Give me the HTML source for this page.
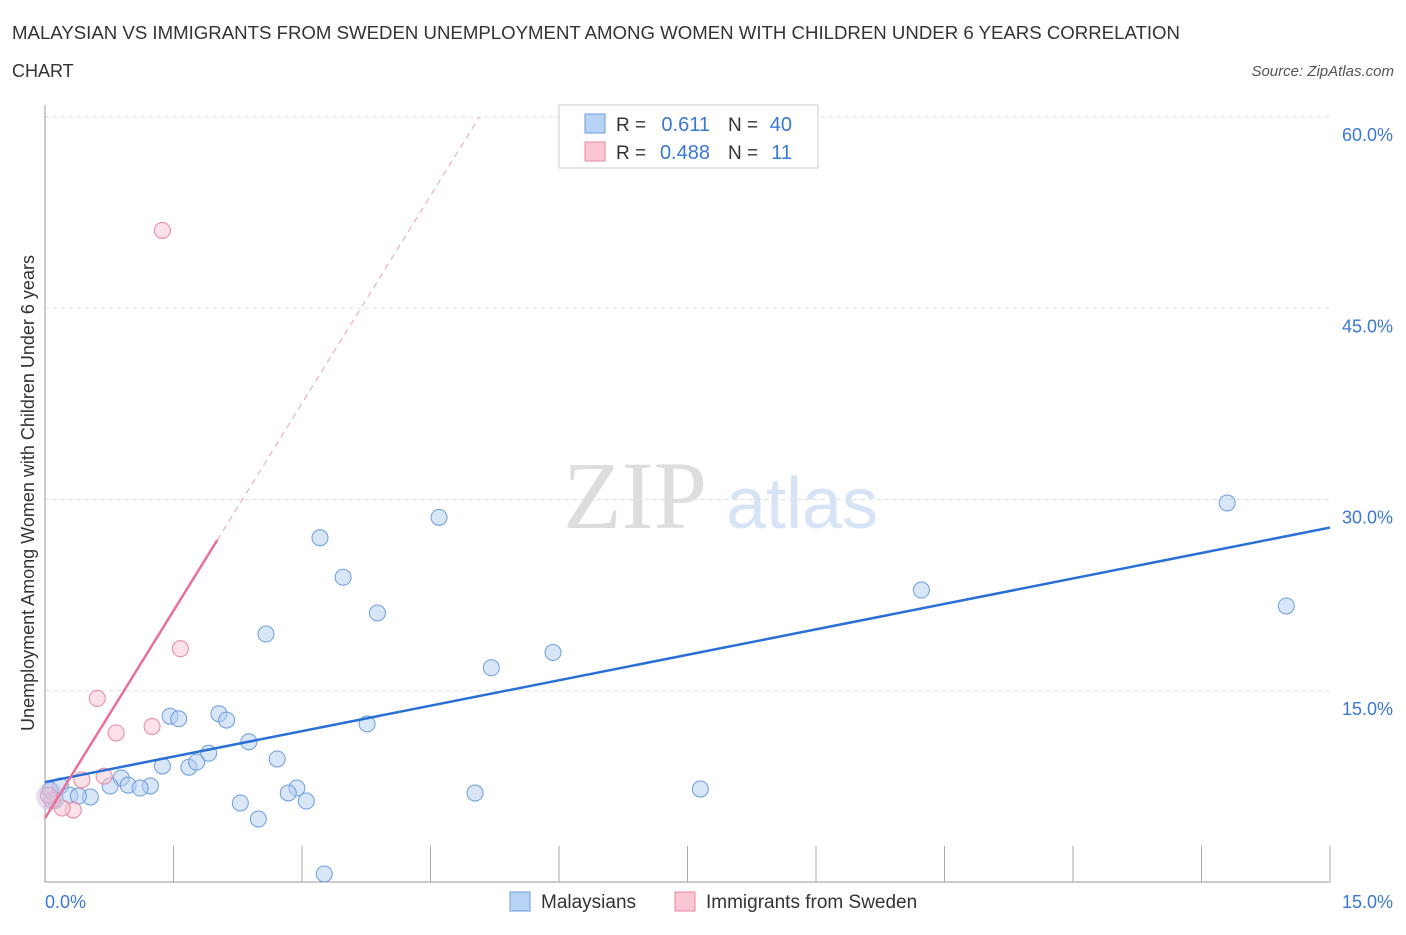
<!DOCTYPE html>
<html><head><meta charset="utf-8"><style>
body{margin:0;background:#fff;font-family:"Liberation Sans",sans-serif}
</style></head><body>
<svg id="c" width="1406" height="930" xmlns="http://www.w3.org/2000/svg">
<text x="12" y="39" font-size="18" fill="#333" textLength="1168" lengthAdjust="spacingAndGlyphs">MALAYSIAN VS IMMIGRANTS FROM SWEDEN UNEMPLOYMENT AMONG WOMEN WITH CHILDREN UNDER 6 YEARS CORRELATION</text>
<text x="12" y="77" font-size="18" fill="#333">CHART</text>
<text x="1394" y="76" font-size="15" font-style="italic" fill="#555" text-anchor="end">Source: ZipAtlas.com</text>
<text x="635" y="528" font-size="96" font-family="Liberation Serif" fill="#ddd" text-anchor="middle">ZIP</text>
<text x="802" y="528" font-size="72" fill="#d6e4f5" text-anchor="middle">atlas</text>
<g id="grid"></g><g id="marks"></g>
<text transform="translate(34,493) rotate(-90)" font-size="18" fill="#333" text-anchor="middle">Unemployment Among Women with Children Under 6 years</text>
<g>
<rect x="559" y="105" width="259" height="63" fill="#fff" stroke="#ccc"/>
<rect x="585" y="114" width="20" height="19" fill="#b8d3f5" stroke="#6a9de0"/>
<rect x="585" y="142" width="20" height="19" fill="#fac6d4" stroke="#e8879f"/>
<text x="616" y="131" font-size="19" fill="#333">R =</text>
<text x="710" y="131" font-size="20" fill="#3a78d4" text-anchor="end">0.611</text>
<text x="728" y="131" font-size="19" fill="#333">N =</text>
<text x="792" y="131" font-size="20" fill="#3a78d4" text-anchor="end">40</text>
<text x="616" y="159" font-size="19" fill="#333">R =</text>
<text x="710" y="159" font-size="20" fill="#3a78d4" text-anchor="end">0.488</text>
<text x="728" y="159" font-size="19" fill="#333">N =</text>
<text x="792" y="159" font-size="20" fill="#3a78d4" text-anchor="end">11</text>
</g>
<g>
<rect x="510" y="892" width="20" height="19" fill="#b8d3f5" stroke="#6a9de0"/>
<text x="541" y="908" font-size="19" fill="#333">Malaysians</text>
<rect x="675" y="892" width="20" height="19" fill="#fac6d4" stroke="#e8879f"/>
<text x="706" y="908" font-size="19" fill="#333">Immigrants from Sweden</text>
</g>
</svg>
<script>
const yTicks=[15,30,45,60];
const yTickLabels=["15.0%","30.0%","45.0%","60.0%"];
const blueX=[13.80,14.49,10.23,4.60,3.21,3.48,3.88,2.58,5.93,5.21,3.76,1.46,1.56,2.03,2.12,2.38,1.91,2.71,1.37,1.68,1.77,0.89,1.23,0.97,1.11,0.76,0.18,0.29,0.53,0.39,2.94,2.84,3.05,2.28,5.02,7.65,2.49,3.26,0.06,0.12];
const blueY=[29.73,21.65,22.9,28.6,27.0,23.9,21.1,19.45,18.0,16.8,12.4,13.0,12.8,13.2,12.7,11.0,10.1,9.65,9.1,9.0,9.4,8.16,7.53,7.6,7.37,7.53,7.53,6.8,6.67,6.75,7.37,6.98,6.35,6.2,6.98,7.29,4.94,0.63,7.2,6.4];
const pinkX=[1.37,1.58,0.61,1.25,0.83,0.69,0.43,0.33,0.20,0.08,0.04];
const pinkY=[51.1,18.3,14.4,12.2,11.7,8.3,8.0,5.65,5.8,6.4,6.8];
const blueLine=[7.84,27.8];
const pinkIntercept=5.0, pinkSlope=10.85;
const X=v=>45+v*85.667, Y=v=>882-v*12.75;
const NS="http://www.w3.org/2000/svg";
function mk(t,a,p){const e=document.createElementNS(NS,t);for(const k in a)e.setAttribute(k,a[k]);p.appendChild(e);return e;}
const g=document.getElementById('grid'), m=document.getElementById('marks');
yTicks.forEach((t,i)=>{
 const l=mk('line',{x1:45,x2:1330,y1:Y(t),y2:Y(t),stroke:'#ddd','stroke-dasharray':'4,4'},g);
 
 
 const tx=mk('text',{x:1393,y:Y(t)+24,'font-size':18,fill:'#3a78d4','text-anchor':'end'},g);
 tx.textContent=yTickLabels[i];
 
 
});
const gl=mk('line',{x1:45,x2:1330,y1:117,y2:117,stroke:'#ddd','stroke-dasharray':'4,4'},g);


const ax=mk('line',{x1:45,x2:45,y1:105,y2:882,stroke:'#999'},g);


const bx=mk('line',{x1:45,x2:1330,y1:882,y2:882,stroke:'#999'},g);


for(let i=0;i<=10;i++){const t=mk('line',{x1:X(i*1.5),x2:X(i*1.5),y1:882,y2:i==0?882:846,stroke:'#aaa'},g);
 
 }
const x0=mk('text',{x:45,y:908,'font-size':18,fill:'#3a78d4'},g);x0.textContent='0.0%';


const x1=mk('text',{x:1393,y:908,'font-size':18,fill:'#3a78d4','text-anchor':'end'},g);x1.textContent='15.0%';


blueX.forEach((x,i)=>{const c=mk('circle',{cx:X(x),cy:Y(blueY[i]),r:8,fill:'rgba(180,205,240,0.5)',stroke:'#6a9de0','stroke-width':1},m);
 
 });
pinkX.forEach((x,i)=>{const c=mk('circle',{cx:X(x),cy:Y(pinkY[i]),r:8,fill:'rgba(250,195,212,0.5)',stroke:'#e8879f','stroke-width':1},m);
 
 });
const big=mk('circle',{cx:X(0.06),cy:Y(6.7),r:14,fill:'rgba(200,190,225,0.5)',stroke:'none'},m);


const bl=mk('line',{x1:X(0),y1:Y(blueLine[0]),x2:X(15),y2:Y(blueLine[1]),stroke:'#2a6fd6','stroke-width':2.5},m);


const xe=2.01, xd=(60-pinkIntercept)/pinkSlope;
const pl=mk('line',{x1:X(0),y1:Y(pinkIntercept),x2:X(xe),y2:Y(pinkIntercept+pinkSlope*xe),stroke:'#e8709a','stroke-width':2.5},m);


const pd=mk('line',{x1:X(xe),y1:Y(pinkIntercept+pinkSlope*xe),x2:X(xd),y2:Y(60),stroke:'#e8a0b8','stroke-width':1,'stroke-dasharray':'6,5'},m);


</script>
</body></html>
